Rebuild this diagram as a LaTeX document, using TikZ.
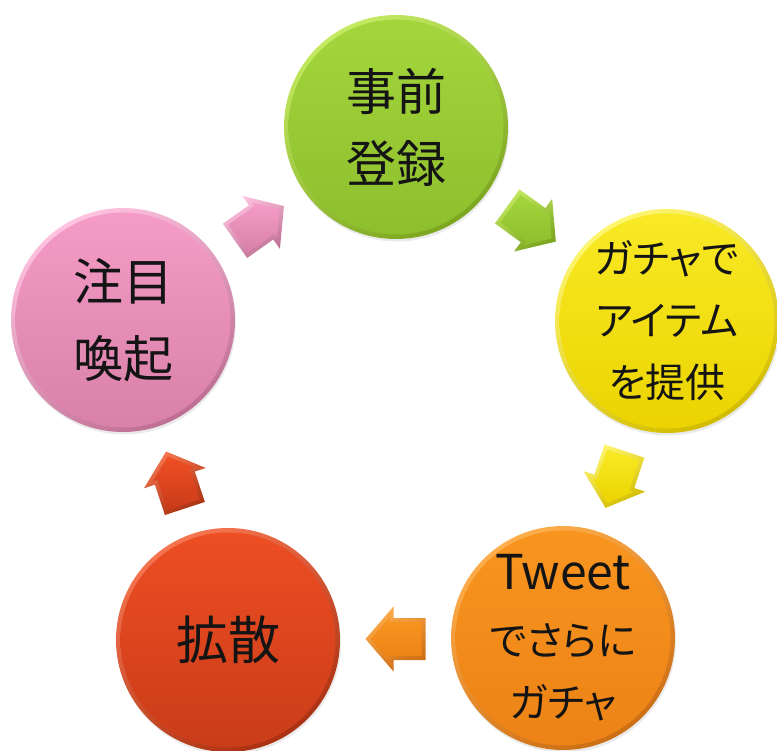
\documentclass[tikz,border=0pt]{standalone}
\usepackage{fontspec}
\newfontfamily\jp[RawFeature=+palt]{Noto Sans CJK JP}
\usetikzlibrary{shadows,calc}
\definecolor{gL}{HTML}{C4EA62}\definecolor{gD}{HTML}{7CA620}\definecolor{gT}{HTML}{A4D63C}\definecolor{gB}{HTML}{8DBE2D}
\definecolor{yL}{HTML}{FFF670}\definecolor{yD}{HTML}{D2BC00}\definecolor{yT}{HTML}{F9EA26}\definecolor{yB}{HTML}{EBD300}
\definecolor{oL}{HTML}{FFAE4C}\definecolor{oD}{HTML}{CC6E14}\definecolor{oT}{HTML}{F8951F}\definecolor{oB}{HTML}{EC8216}
\definecolor{rL}{HTML}{F67550}\definecolor{rD}{HTML}{AA3112}\definecolor{rT}{HTML}{EE4E23}\definecolor{rB}{HTML}{C93C19}
\definecolor{pL}{HTML}{FFC2E0}\definecolor{pD}{HTML}{BE6F93}\definecolor{pT}{HTML}{F59CC8}\definecolor{pB}{HTML}{D880A7}
\newcommand\cyclearrow[7]{%
  \begin{scope}[shift={($(#1)!0.5!(#2)$)}, rotate=#3]
    \shade[top color=#4, bottom color=#5, shading angle=30]
      (-30,-21) -- (2,-21) -- (2,-32.5) -- (30,0) -- (2,32.5) -- (2,21) -- (-30,21) -- cycle;
    \shade[top color=#6, bottom color=#7]
      (-26,-17) -- (6,-17) -- (6,-21.7) -- (24.7,0) -- (6,21.7) -- (6,17) -- (-26,17) -- cycle;
  \end{scope}}
\begin{document}
\begin{tikzpicture}[x=1pt,y=1pt,
  ball/.style n args={4}{circle, minimum size=224pt, inner sep=0pt, align=center, text=black!92,
    drop shadow={shadow xshift=1pt, shadow yshift=-2.5pt, opacity=0.16},
    top color=#1, bottom color=#2, shading angle=30,
    path picture={\shade[top color=#3, bottom color=#4] (path picture bounding box.center) circle (107.5pt);}}]
\fill[white] (0,0) rectangle (777,-751);
\useasboundingbox (0,0) rectangle (777,-751);
\node[ball={gL}{gD}{gT}{gB}, font={\jp\fontsize{50}{72}\selectfont}] (reg) at (396,-127) {事前\\登録};
\node[ball={yL}{yD}{yT}{yB}, font={\jp\fontsize{40}{62}\selectfont}] (gacha) at (667,-321) {ガチャで\\アイテム\\を提供};
\node[ball={oL}{oD}{oT}{oB}, font={\jp\fontsize{40}{62}\selectfont}] (tweet) at (563,-638) {{\fontsize{48}{62}\selectfont Tweet}\\[4pt]でさらに\\ガチャ};
\node[ball={rL}{rD}{rT}{rB}, font={\jp\fontsize{52}{72}\selectfont}] (spread) at (228,-640) {拡散};
\node[ball={pL}{pD}{pT}{pB}, font={\jp\fontsize{50}{77}\selectfont}] (attn) at (123,-320) {注目\\喚起};
\cyclearrow{reg}{gacha}{-35.8}{gL}{gD}{gT}{gB}
\cyclearrow{gacha}{tweet}{-108.4}{yL}{yD}{yT}{yB}
\cyclearrow{tweet}{spread}{180}{oL}{oD}{oT}{oB}
\cyclearrow{spread}{attn}{108.2}{rL}{rD}{rT}{rB}
\cyclearrow{attn}{reg}{35.3}{pL}{pD}{pT}{pB}
\end{tikzpicture}
\end{document}
